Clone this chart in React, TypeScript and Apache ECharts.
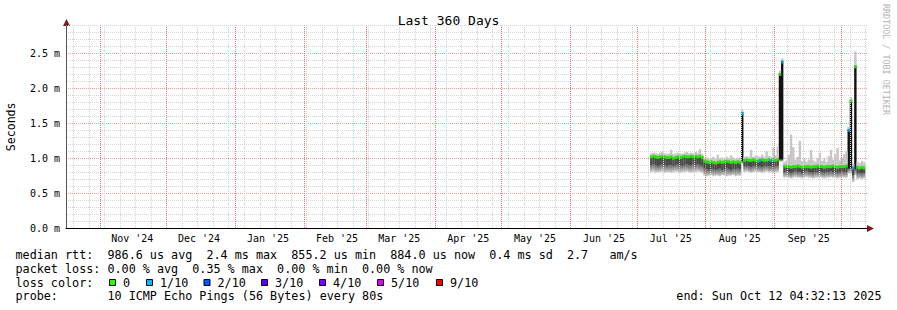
import React, { useEffect, useRef } from "react";
import * as echarts from "echarts";

// ---------- time frame ----------
const DAY_MS = 86400000;
const END_TIME = Date.UTC(2025, 9, 12, 4, 32, 13);
const SPAN_DAYS = 360;
const START_TIME = END_TIME - SPAN_DAYS * DAY_MS;

// month boundaries (year, monthIndex) shown as red grid lines
const monthStarts: [number, number][] = [
  [2024, 10], [2024, 11], [2025, 0], [2025, 1], [2025, 2], [2025, 3],
  [2025, 4], [2025, 5], [2025, 6], [2025, 7], [2025, 8], [2025, 9],
];
const monthLabels = [
  "Nov '24", "Dec '24", "Jan '25", "Feb '25", "Mar '25", "Apr '25",
  "May '25", "Jun '25", "Jul '25", "Aug '25", "Sep '25",
];
const firstWeekLine = Date.UTC(2024, 9, 20);

// ---------- samples (one per day, first on 2025-07-07 ~12:00) ----------
const FIRST_SAMPLE_TIME = Date.UTC(2025, 6, 7, 11, 45);

// median rtt (ms)
const median = [
  1.02, 1.03, 1.02, 1.01, 1.02, 1.03, 1.02, 1.01, 1.01, 1.02, 1.0, 1.01, 1.02, 1.01, 1.02, 1.03, 1.02, 1.02, 1.03, 1.02, 1.03, 1.02, 1.03, 1.01,
  0.96, 0.95, 0.94, 0.95, 0.94, 0.93, 0.94, 0.95, 0.94, 0.95, 0.96, 0.95, 0.94, 0.95, 0.94, 0.95, 0.94,
  1.64,
  0.97, 0.98, 0.97, 0.97, 0.98, 0.97, 0.96, 0.97, 0.98, 0.97, 0.97, 0.98, 0.97, 0.98, 0.97, 0.98,
  2.2, 2.38,
  0.89, 0.88, 0.88, 0.87, 0.88, 0.88, 0.89, 0.88, 0.87, 0.88, 0.88, 0.88, 0.87, 0.88, 0.88, 0.89, 0.88, 0.88, 0.87, 0.88, 0.88, 0.88, 0.89, 0.88, 0.87, 0.88, 0.88, 0.88, 0.89,
  1.4, 1.82, 0.86, 2.31,
  0.87, 0.86, 0.87, 0.86,
];
// lost pings out of 10 for each sample
const loss = [
  0, 0, 0, 0, 0, 0, 0, 0, 0, 0, 0, 0, 0, 0, 0, 0, 0, 0, 0, 0, 0, 0, 0, 0,
  0, 0, 0, 0, 0, 0, 0, 0, 0, 0, 0, 0, 0, 0, 0, 0, 0,
  1,
  0, 0, 0, 0, 0, 0, 0, 1, 0, 0, 0, 0, 1, 0, 0, 0,
  0, 1,
  0, 0, 0, 0, 0, 0, 0, 0, 0, 0, 0, 0, 0, 0, 0, 0, 0, 0, 0, 0, 0, 0, 0, 0, 0, 0, 0, 0, 0,
  1, 0, 1, 0,
  0, 0, 0, 0,
];
// smoke: lowest ping
const smokeMin = [
  0.8, 0.81, 0.79, 0.8, 0.8, 0.81, 0.79, 0.8, 0.8, 0.79, 0.8, 0.81, 0.8, 0.79, 0.8, 0.8, 0.81, 0.8, 0.79, 0.8, 0.8, 0.81, 0.8, 0.79,
  0.75, 0.74, 0.75, 0.76, 0.74, 0.75, 0.75, 0.74, 0.76, 0.75, 0.74, 0.75, 0.75, 0.76, 0.74, 0.75, 0.75,
  0.92,
  0.8, 0.81, 0.8, 0.79, 0.8, 0.81, 0.8, 0.8, 0.79, 0.8, 0.81, 0.8, 0.8, 0.79, 0.8, 0.8,
  0.95, 0.95,
  0.72, 0.73, 0.72, 0.71, 0.72, 0.73, 0.72, 0.72, 0.71, 0.72, 0.73, 0.72, 0.72, 0.71, 0.72, 0.72, 0.73, 0.72, 0.71, 0.72, 0.72, 0.73, 0.72, 0.72, 0.71, 0.72, 0.73, 0.72, 0.72,
  0.78, 0.78, 0.66, 0.76,
  0.7, 0.71, 0.7, 0.71,
];
// smoke: lower edge of the dense core
const smokeLow = [
  0.9, 0.91, 0.9, 0.89, 0.9, 0.91, 0.9, 0.89, 0.9, 0.9, 0.89, 0.9, 0.91, 0.9, 0.89, 0.9, 0.91, 0.9, 0.9, 0.91, 0.9, 0.91, 0.9, 0.89,
  0.85, 0.84, 0.83, 0.84, 0.84, 0.83, 0.84, 0.85, 0.83, 0.84, 0.85, 0.84, 0.83, 0.84, 0.84, 0.85, 0.84,
  0.95,
  0.88, 0.89, 0.88, 0.87, 0.88, 0.89, 0.88, 0.88, 0.87, 0.88, 0.89, 0.88, 0.88, 0.87, 0.88, 0.89,
  0.98, 0.98,
  0.8, 0.81, 0.8, 0.79, 0.8, 0.81, 0.8, 0.8, 0.79, 0.8, 0.81, 0.8, 0.8, 0.79, 0.8, 0.8, 0.81, 0.8, 0.79, 0.8, 0.8, 0.81, 0.8, 0.8, 0.79, 0.8, 0.81, 0.8, 0.8,
  0.85, 0.86, 0.76, 0.84,
  0.78, 0.79, 0.78, 0.79,
];
// smoke: upper edge of the dense core
const smokeHigh = [
  1.04, 1.05, 1.04, 1.03, 1.04, 1.05, 1.04, 1.03, 1.03, 1.04, 1.02, 1.03, 1.04, 1.03, 1.04, 1.05, 1.04, 1.04, 1.05, 1.04, 1.05, 1.04, 1.05, 1.03,
  0.98, 0.97, 0.96, 0.97, 0.96, 0.95, 0.96, 0.97, 0.96, 0.97, 0.98, 0.97, 0.96, 0.97, 0.96, 0.97, 0.96,
  1.66,
  0.99, 1.0, 0.99, 0.99, 1.0, 0.99, 0.98, 0.99, 1.0, 0.99, 0.99, 1.0, 0.99, 1.0, 0.99, 1.0,
  2.22, 2.4,
  0.9, 0.9, 0.9, 0.89, 0.9, 0.9, 0.91, 0.9, 0.89, 0.9, 0.9, 0.9, 0.89, 0.9, 0.9, 0.91, 0.9, 0.9, 0.89, 0.9, 0.9, 0.9, 0.91, 0.9, 0.89, 0.9, 0.9, 0.9, 0.91,
  1.42, 1.84, 0.88, 2.33,
  0.89, 0.88, 0.89, 0.88,
];
// smoke: highest ping
const smokeMax = [
  1.07, 1.08, 1.07, 1.06, 1.08, 1.09, 1.07, 1.06, 1.07, 1.12, 1.06, 1.07, 1.08, 1.07, 1.06, 1.08, 1.09, 1.07, 1.08, 1.07, 1.09, 1.08, 1.13, 1.06,
  1.0, 1.01, 0.99, 1.0, 1.02, 0.99, 1.05, 1.0, 1.01, 0.99, 1.02, 1.0, 1.04, 1.01, 0.99, 1.0, 1.01,
  1.7,
  1.02, 1.03, 1.02, 1.12, 1.02, 1.04, 1.03, 1.02, 1.05, 1.02, 1.1, 1.03, 1.02, 1.15, 1.04, 1.17,
  2.26, 2.43,
  0.95, 0.97, 1.05, 1.34, 1.16, 0.98, 1.02, 1.25, 0.96, 1.0, 0.95, 0.98, 1.12, 0.97, 0.95, 1.0, 1.08, 0.96, 0.99, 0.95, 1.03, 1.12, 0.98, 1.06, 1.15, 0.97, 1.0, 1.06, 1.1,
  1.45, 1.88, 0.93, 2.53,
  0.95, 0.93, 0.96, 0.94,
];

const lossColors: Record<number, string> = {
  0: "#26ff00", 1: "#00b8ff", 2: "#0059ff", 3: "#5e00ff", 4: "#7e00ff", 5: "#dd00ff", 9: "#ff0000",
};
const lossLegend: [number, string][] = [
  [0, "0"], [1, "1/10"], [2, "2/10"], [3, "3/10"], [4, "4/10"], [5, "5/10"], [9, "9/10"],
];

// legend text
const rttLine: [number, string][] = [
  [0, "median rtt:"], [13, "986.6 us avg"], [27, "2.4 ms max"], [39, "855.2 us min"],
  [53, "884.0 us now"], [67, "0.4 ms sd"], [78, "2.7"], [84, "am/s"],
];
const lossLine: [number, string][] = [
  [0, "packet loss:"], [13, "0.00 % avg"], [25, "0.35 % max"], [37, "0.00 % min"], [49, "0.00 % now"],
];
const probeLine: [number, string][] = [
  [0, "probe:"], [13, "10 ICMP Echo Pings (56 Bytes) every 80s"],
];
const endText = "end: Sun Oct 12 04:32:13 2025";
const titleText = "Last 360 Days";
const creditText = "RRDTOOL / TOBI OETIKER";

const MONO = '"DejaVu Sans Mono", monospace';

export default function App() {
  const ref = useRef<HTMLDivElement>(null);
  useEffect(() => {
    if (!ref.current) return;
    const chart = echarts.init(ref.current, undefined, { renderer: "svg" });
    const toDay = (t: number) => (t - START_TIME) / DAY_MS;
    const monthTimes = monthStarts.map(([y, m]) => Date.UTC(y, m, 1));
    const labelDays = monthStarts.slice(0, monthLabels.length).map(([y, m]) => toDay(Date.UTC(y, m, 16)));
    const weekTimes: number[] = [];
    for (let t = firstWeekLine; t <= END_TIME; t += 7 * DAY_MS) weekTimes.push(t);
    const xs = median.map((_, i) => FIRST_SAMPLE_TIME + i * DAY_MS);

    const labelFor = (v: number) => {
      for (let k = 0; k < labelDays.length; k++) if (Math.abs(labelDays[k] - v) < 0.01) return monthLabels[k];
      return "";
    };

    const CW = 7.07;
    const LX = 16;
    const FONT = `11.75px ${MONO}`;
    const textRow = (items: [number, string][], y: number) =>
      items.map(([col, t]) => ({
        type: "text", x: LX + col * CW - 0.5, y, silent: true,
        style: { text: t, font: FONT, fill: "#000", verticalAlign: "middle", align: "left" },
      }));
    const squareX = [109, 146, 203.5, 261, 319, 377, 436];
    const lossRow: any[] = [
      { type: "text", x: LX - 0.5, y: 282.5, silent: true, style: { text: "loss color:", font: FONT, fill: "#000", verticalAlign: "middle" } },
    ];
    lossLegend.forEach(([k, label], idx) => {
      lossRow.push({
        type: "rect", silent: true,
        shape: { x: squareX[idx] + 0.5, y: 279.5, width: 6, height: 6 },
        style: { fill: lossColors[k], stroke: "#000", lineWidth: 1 },
      });
      lossRow.push({
        type: "text", x: squareX[idx] + 14, y: 282.5, silent: true,
        style: { text: label, font: FONT, fill: "#000", verticalAlign: "middle" },
      });
    });

    const bandGradient = new echarts.graphic.LinearGradient(0, 0, 0, 1, [
      { offset: 0, color: "#666666" },
      { offset: 1, color: "#d0d0d0" },
    ]);

    const option: any = {
      animation: false,
      backgroundColor: "#fff",
      title: {
        text: titleText, left: "center", top: 9,
        textStyle: { fontFamily: MONO, fontSize: 13, fontWeight: "normal", color: "#000" },
      },
      grid: {
        left: 66, right: 30, top: 228 - 2.9 * 69.76, bottom: 82,
        containLabel: false, outerBoundsMode: "none",
      },
      xAxis: [
        {
          type: "time", min: START_TIME, max: END_TIME,
          axisLine: { show: true, lineStyle: { color: "#000", width: 1 } },
          axisTick: { show: false },
          splitLine: { show: false },
          axisLabel: { show: false },
        },
        {
          type: "value", min: 0, max: SPAN_DAYS, position: "bottom",
          axisLine: { show: false }, axisTick: { show: false }, splitLine: { show: false },
          axisLabel: {
            customValues: labelDays, formatter: (v: number) => labelFor(v),
            fontFamily: MONO, fontSize: 10, color: "#000", margin: 5,
          },
        },
      ],
      yAxis: {
        type: "value", min: 0, max: 2.9, interval: 0.1,
        name: "Seconds", nameLocation: "middle", nameGap: 49, nameRotate: 90,
        nameTextStyle: { fontFamily: MONO, fontSize: 11.6, color: "#000" },
        axisLine: { show: true, lineStyle: { color: "#555", width: 1 } },
        axisTick: { show: false },
        axisLabel: {
          fontFamily: MONO, fontSize: 10, color: "#000", margin: 6,
          formatter: (v: number) => {
            const r = v / 0.5;
            return Math.abs(r - Math.round(r)) < 1e-6 ? `${v.toFixed(1)} m` : "";
          },
        },
        splitLine: {
          show: true,
          lineStyle: { color: ["#f39a9a", "#d6d6d6", "#d6d6d6", "#d6d6d6", "#d6d6d6"], type: [1, 1], width: 1 },
        },
      },
      series: [
        {
          type: "line", data: [], z: 1, silent: true,
          markLine: {
            silent: true, symbol: ["none", "none"], label: { show: false }, animation: false,
            data: [
              ...weekTimes.map((t) => ({ xAxis: t, lineStyle: { color: "#d0d0d0", type: [1, 1], width: 1 } })),
              ...monthTimes.map((t) => ({ xAxis: t, lineStyle: { color: "#ef7070", type: [1, 1], width: 1 } })),
            ],
          },
        },
        {
          type: "bar", stack: "smoke", barWidth: 2.4, silent: true, z: 2,
          itemStyle: { color: "rgba(0,0,0,0)" },
          data: smokeMin.map((v, i) => [xs[i], v]),
        },
        {
          type: "bar", stack: "smoke", barWidth: 2.4, silent: true, z: 2,
          itemStyle: { color: bandGradient },
          data: smokeLow.map((v, i) => [xs[i], +(v - smokeMin[i]).toFixed(3)]),
        },
        {
          type: "bar", stack: "smoke", barWidth: 2.4, silent: true, z: 2,
          data: smokeHigh.map((v, i) => ({
            value: [xs[i], +(v - smokeLow[i]).toFixed(3)],
            itemStyle: { color: v - smokeLow[i] > 0.3 ? "#111111" : "#4a4a4a" },
          })),
        },
        {
          type: "bar", stack: "smoke", barWidth: 2.4, silent: true, z: 2,
          itemStyle: { color: "#c6c6c6" },
          data: smokeMax.map((v, i) => [xs[i], +(v - smokeHigh[i]).toFixed(3)]),
        },
        {
          type: "scatter", symbol: "rect", symbolSize: [2.6, 3], silent: true, z: 3,
          data: median.map((v, i) => ({ value: [xs[i], v], itemStyle: { color: lossColors[loss[i]] } })),
        },
      ],
      graphic: [
        { type: "polygon", silent: true, shape: { points: [[66.5, 19], [63, 26], [70, 26]] }, style: { fill: "#7b1a1a" } },
        { type: "polygon", silent: true, shape: { points: [[874, 228.5], [867, 225], [867, 232]] }, style: { fill: "#7b1a1a" } },
        {
          type: "text", x: 886, y: 4, rotation: -Math.PI / 2, silent: true,
          style: { text: creditText, font: `8.4px ${MONO}`, fill: "#b4b4b4", verticalAlign: "middle", align: "left" },
        },
        ...textRow(rttLine, 255),
        ...textRow(lossLine, 268.5),
        ...lossRow,
        ...textRow(probeLine, 296),
        {
          type: "text", x: 881.5, y: 296, silent: true,
          style: { text: endText, font: FONT, fill: "#000", verticalAlign: "middle", align: "right" },
        },
      ],
    };
    chart.setOption(option);
    return () => chart.dispose();
  }, []);
  return <div ref={ref} style={{ width: 897, height: 310, position: "absolute", left: 0, top: 0 }} />;
}
